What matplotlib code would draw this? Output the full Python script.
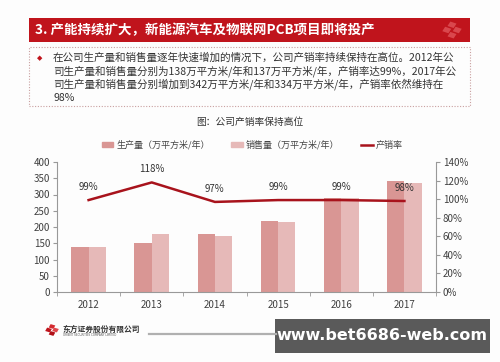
import matplotlib
matplotlib.use("Agg")
import matplotlib.pyplot as plt
from matplotlib.patches import Rectangle
from matplotlib.lines import Line2D
import matplotlib.patches as mpatches

plt.rcParams['font.family'] = ['Noto Sans CJK SC', 'DejaVu Sans']

years = ['2012', '2013', '2014', '2015', '2016', '2017']
production = [138, 150, 178, 218, 290, 342]
sales = [137, 178, 173, 215, 290, 334]
rate = [99, 118, 97, 99, 99, 98]
rate_labels = ['99%', '118%', '97%', '99%', '99%', '98%']
left_ticks = [0, 50, 100, 150, 200, 250, 300, 350, 400]
right_ticks = [0, 20, 40, 60, 80, 100, 120, 140]

title_text = '3. 产能持续扩大，新能源汽车及物联网PCB项目即将投产'
body_lines = ['在公司生产量和销售量逐年快速增加的情况下，公司产销率持续保持在高位。2012年公',
              '司生产量和销售量分别为138万平方米/年和137万平方米/年，产销率达99%，2017年公',
              '司生产量和销售量分别增加到342万平方米/年和334万平方米/年，产销率依然维持在',
              '98%']
chart_title = '图：公司产销率保持高位'
legend_labels = ['生产量（万平方米/年）', '销售量（万平方米/年）', '产销率']

W, H = 500, 362
fig = plt.figure(figsize=(W / 100, H / 100), dpi=100)
fig.patch.set_facecolor('#fdfdfd')

def fx(x):
    return x / W

def fy(y):
    return 1 - y / H

prod_c = '#d99694'
sales_c = '#e6b9b8'
line_c = '#a8131c'
red = '#c0141c'

# banner
fig.patches.append(Rectangle((fx(29), fy(42)), fx(441), 24 / H, transform=fig.transFigure,
                             facecolor=red, edgecolor='none'))
fig.text(fx(35), fy(30), title_text, color='white', fontsize=9.7, va='center', ha='left',
         fontweight='bold')
# decorative icon in banner
for dx, dy in [(0, -5.2), (-5.2, 0), (5.2, 0), (0, 5.2)]:
    fig.patches.append(mpatches.RegularPolygon((fx(452 + dx), fy(30 + dy)), 4, radius=4.8 / W,
                       orientation=0.35, transform=fig.transFigure, facecolor='#d9474d',
                       edgecolor='none'))

# dashed box
fig.patches.append(Rectangle((fx(29), fy(106)), fx(441), 59 / H, transform=fig.transFigure,
                             facecolor='none', edgecolor='#c9a0a0', linestyle=(0, (1, 1.5)),
                             linewidth=0.8))
fig.text(fx(40), fy(58), '◆', color=red, fontsize=5, va='center', ha='center',
         family=['DejaVu Sans'])
for i, ln in enumerate(body_lines):
    fig.text(fx(53), fy(58 + i * 13.3), ln, color='#333333', fontsize=7.6, va='center', ha='left')

# chart title
fig.text(fx(250), fy(122), chart_title, color='#333333', fontsize=7, va='center', ha='center')

# axes
ax = fig.add_axes([fx(57), fy(292), fx(379), 130 / H])
ax.set_facecolor('none')
x = list(range(len(years)))
bw = 0.275
ax.bar([i - bw / 2 for i in x], production, width=bw, color=prod_c, zorder=2)
ax.bar([i + bw / 2 for i in x], sales, width=bw, color=sales_c, zorder=2)
ax.set_xlim(-0.5, 5.5)
ax.set_ylim(0, 400)
ax.set_yticks(left_ticks)
ax.set_xticks(x)
ax.set_xticklabels(years)
ax.set_xticks([i + 0.5 for i in range(-1, 6)], minor=True)
ax.tick_params(axis='x', which='major', length=0, labelsize=7, colors='#404040', pad=6)
ax.tick_params(axis='x', which='minor', length=3, color='#999999', direction='out')
ax.tick_params(axis='y', length=3, color='#999999', labelsize=7, labelcolor='#404040', pad=2)
for s in ['top', 'right']:
    ax.spines[s].set_visible(False)
for s in ['left', 'bottom']:
    ax.spines[s].set_color('#999999')
    ax.spines[s].set_linewidth(0.8)

ax2 = ax.twinx()
ax2.plot(x, rate, color=line_c, linewidth=1.8, zorder=3)
ax2.set_ylim(0, 140)
ax2.set_yticks(right_ticks)
ax2.set_yticklabels([f'{t}%' for t in right_ticks])
ax2.tick_params(axis='y', length=3, color='#999999', labelsize=7, labelcolor='#404040', pad=2)
for s in ['top', 'left', 'bottom']:
    ax2.spines[s].set_visible(False)
ax2.spines['right'].set_color('#999999')
ax2.spines['right'].set_linewidth(0.8)
for i, (r, lab) in enumerate(zip(rate, rate_labels)):
    ax2.annotate(lab, (i, r), xytext=(0, 6), textcoords='offset points', ha='center',
                 va='bottom', fontsize=7, color='#333333')

handles = [mpatches.Patch(color=prod_c), mpatches.Patch(color=sales_c),
           Line2D([], [], color=line_c, linewidth=1.8)]
fig.legend(handles, legend_labels, loc='center', bbox_to_anchor=(fx(252), fy(145)), ncol=3,
           frameon=False, fontsize=6.5, handlelength=1.3, handleheight=0.6, columnspacing=2.4,
           handletextpad=0.3, labelcolor='#444444')

# footer logo
for dx, dy, c in [(0, -3.5, '#d42a2f'), (-3.5, 0, '#c0141c'), (3.5, 0, '#e0464b'), (0, 3.5, '#b01018')]:
    fig.patches.append(mpatches.RegularPolygon((fx(52 + dx), fy(330 + dy)), 4, radius=3.6 / W,
                       orientation=0.4, transform=fig.transFigure, facecolor=c, edgecolor='none'))
fig.text(fx(63), fy(329), '东方证券股份有限公司', color='#333333', fontsize=5.6, va='center',
         ha='left', fontweight='bold')
fig.text(fx(63), fy(335), 'ORIENT SECURITIES COMPANY LIMITED', color='#555555', fontsize=2,
         va='center', ha='left', family=['DejaVu Sans'])
fig.lines.append(Line2D([fx(149), fx(276)], [fy(334), fy(334)], transform=fig.transFigure,
                        color='#b0b0b0', linewidth=1.6))

# watermark box
fig.patches.append(Rectangle((fx(275), fy(353)), fx(215), 34 / H, transform=fig.transFigure,
                             facecolor='#5a5a5a', edgecolor='none'))
fig.text(fx(382), fy(336), 'www.bet6686-web.com', color='white', fontsize=11.5,
         fontweight='bold', va='center', ha='center', family=['DejaVu Sans'])

fig.savefig('out.png', dpi=100, facecolor=fig.get_facecolor())
